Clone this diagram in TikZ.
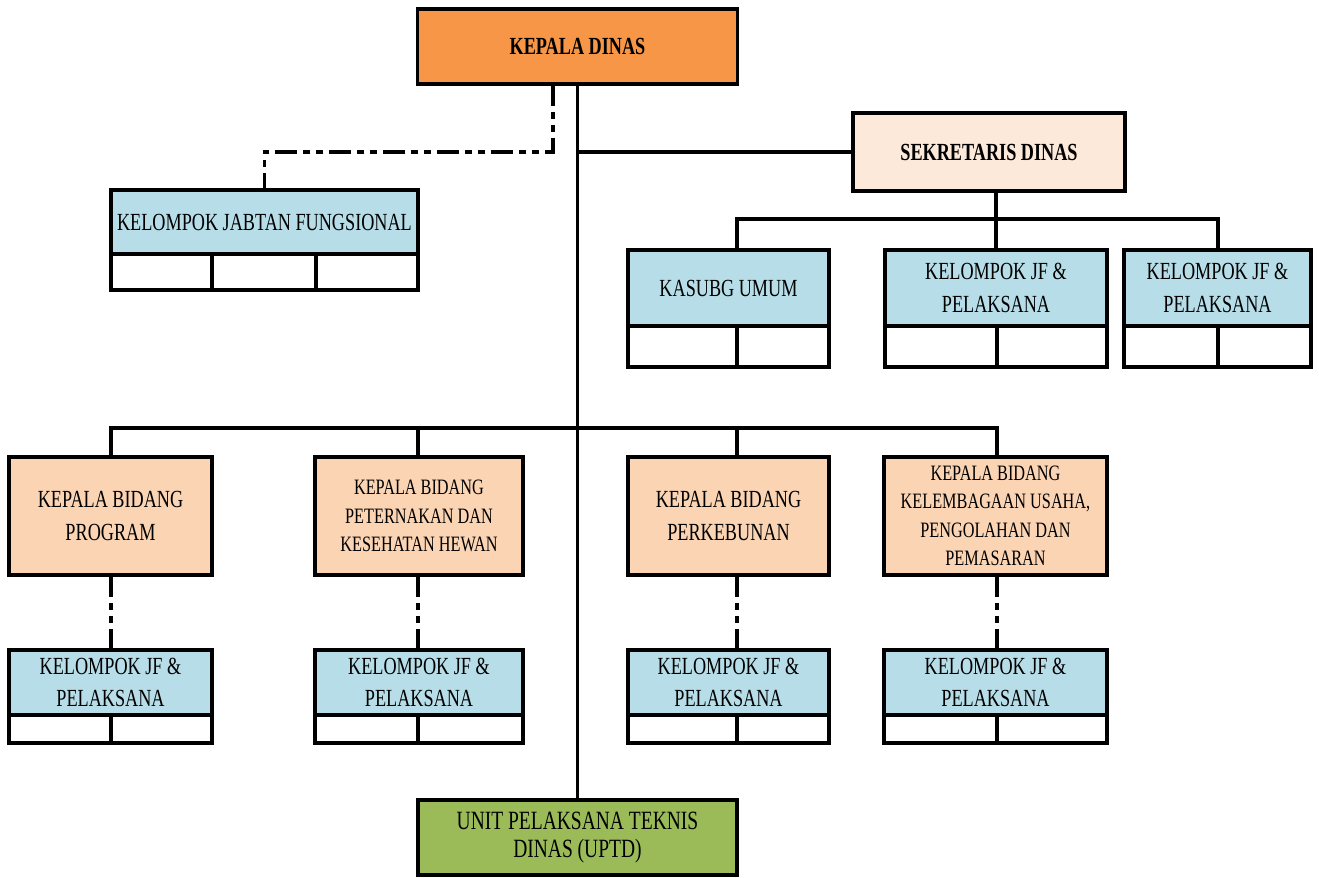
\documentclass[tikz,border=0pt]{standalone}
\usepackage{fontspec}
\setmainfont{Liberation Serif}[FakeStretch=0.74]
\usetikzlibrary{positioning}
\definecolor{oranye}{HTML}{F79646}
\definecolor{krem}{HTML}{FDE9D9}
\definecolor{biru}{HTML}{B7DEE8}
\definecolor{persik}{HTML}{FBD4B4}
\definecolor{hijau}{HTML}{9BBB59}
\tikzset{
  kotak/.style={draw, line width=2.2pt, outer sep=0pt, inner sep=1pt, align=center,
    font=\fontsize{14}{18.5}\selectfont},
  tebal/.style={font=\fontsize{14}{17}\selectfont\bfseries},
  kecil/.style={font=\fontsize{12.5}{16.2}\selectfont},
  garis/.style={line width=2.2pt},
  putus/.style={line width=2.2pt, dash pattern=on 12.5pt off 3.4pt on 4pt off 3.4pt on 4pt off 3.4pt},
}
\begin{document}
\begin{tikzpicture}[x=0.02cm, y=-0.02cm]
                
                \useasboundingbox (0,0) rectangle (1319,877);
                \fill[white] (0,0) rectangle (1319,877);

                % Pimpinan
                \node[kotak, tebal, fill=oranye, minimum width=6.4cm, minimum height=1.5cm] (kd) at (577.5,46.5) {KEPALA DINAS};
                \node[kotak, tebal, fill=krem, minimum width=5.44cm, minimum height=1.56cm] (sek) at (989,152) {SEKRETARIS DINAS};
                \node[kotak, fill=biru, minimum width=6.14cm, minimum height=1.28cm] (kjf) at (264.5,222) {KELOMPOK JABTAN FUNGSIONAL};

                % Bawah sekretaris
                \node[kotak, fill=biru, minimum width=4.02cm, minimum height=1.52cm] (ksb) at (728.5,288) {KASUBG UMUM};
                \node[kotak, fill=biru, minimum width=4.44cm, minimum height=1.52cm] (jfa) at (996,288) {KELOMPOK JF \&\\PELAKSANA};
                \node[kotak, fill=biru, minimum width=3.74cm, minimum height=1.52cm] (jfb) at (1217.5,288) {KELOMPOK JF \&\\PELAKSANA};

                % Bidang
                \node[kotak, fill=persik, minimum width=4.06cm, minimum height=2.36cm] (kb1) at (110.5,516) {KEPALA BIDANG\\PROGRAM};
                \node[kotak, kecil, fill=persik, minimum width=4.16cm, minimum height=2.36cm] (kb2) at (419,516) {KEPALA BIDANG\\PETERNAKAN DAN\\KESEHATAN HEWAN};
                \node[kotak, fill=persik, minimum width=4.02cm, minimum height=2.36cm] (kb3) at (728.5,516) {KEPALA BIDANG\\PERKEBUNAN};
                \node[kotak, kecil, fill=persik, minimum width=4.46cm, minimum height=2.36cm] (kb4) at (995.5,516) {KEPALA BIDANG\\KELEMBAGAAN USAHA,\\PENGOLAHAN DAN\\PEMASARAN};

                % Kelompok JF per bidang
                \node[kotak, fill=biru, minimum width=4.06cm, minimum height=1.3cm] (jf1) at (110.5,682.5) {KELOMPOK JF \&\\PELAKSANA};
                \node[kotak, fill=biru, minimum width=4.16cm, minimum height=1.3cm] (jf2) at (419,682.5) {KELOMPOK JF \&\\PELAKSANA};
                \node[kotak, fill=biru, minimum width=4.02cm, minimum height=1.3cm] (jf3) at (728.5,682.5) {KELOMPOK JF \&\\PELAKSANA};
                \node[kotak, fill=biru, minimum width=4.46cm, minimum height=1.3cm] (jf4) at (995.5,682.5) {KELOMPOK JF \&\\PELAKSANA};

                \node[kotak, fill=hijau, minimum width=6.38cm, minimum height=1.5cm, font=\fontsize{15}{15.5}\selectfont] (uptd) at (577.5,837.5) {UNIT PELAKSANA TEKNIS\\DINAS (UPTD)};

                % Sel kosong di bawah kotak
                \foreach \n/\m/\b in {kjf/212/290, ksb/737/367, jfa/997/367, jfb/1218/367, jf1/111/743, jf2/418/743, jf3/737/743, jf4/997/743} {
                  \draw[garis] (\n.south west) rectangle (\n.south east |- 0,\b);
                  \draw[garis] (\n.south -| \m,0) -- (\m,\b);
                }
                \draw[garis] (kjf.south -| 316,0) -- (316,290);

                % Garis komando
                \draw[garis] (kd) -- (uptd);
                \draw[garis] (kd.south |- sek.west) -- (sek.west);
                \coordinate (s1) at (737,219);
                \coordinate (s3) at (1218,219);
                \draw[garis] (sek.south -| jfa.north) -- (jfa.north);
                \draw[garis] (s1 |- ksb.north) -- (s1) -- (s3) -- (s3 |- jfb.north);

                \coordinate (b1) at (111,428);
                \coordinate (b2) at (418,428);
                \coordinate (b3) at (737,428);
                \coordinate (b4) at (997,428);
                \draw[garis] (b1 |- kb1.north) -- (b1) -- (b4) -- (b4 |- kb4.north);
                \draw[garis] (b2) -- (b2 |- kb2.north);
                \draw[garis] (b3) -- (b3 |- kb3.north);

                % Garis koordinasi
                \coordinate (d1) at (553,152);
                \draw[putus] (kd.south -| d1) -- (d1) -| (kjf.north);
                \foreach \i in {1,2,3,4}
                  \draw[putus] (kb\i.south -| b\i) -- (jf\i.north -| b\i);

            \end{tikzpicture}
\end{document}
